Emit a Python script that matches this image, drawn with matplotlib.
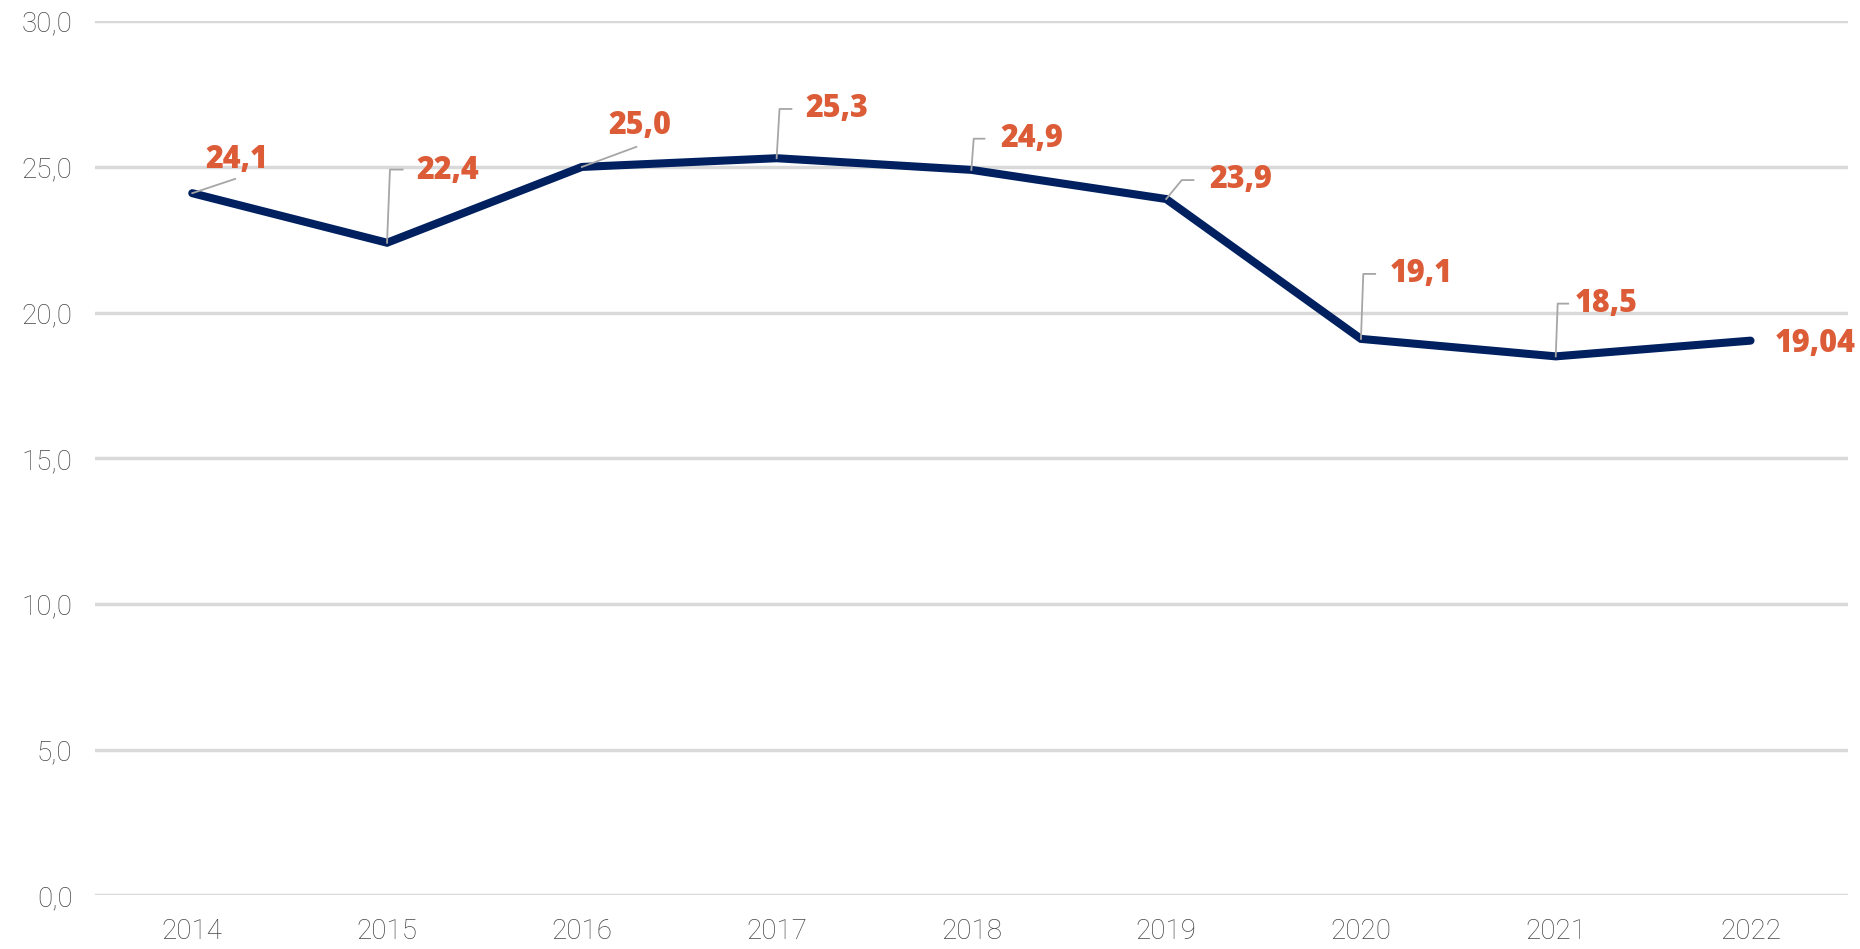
import matplotlib
matplotlib.use('Agg')
import matplotlib.pyplot as plt
from matplotlib.ticker import FuncFormatter

# ========== 数据 ==========
years = ['2014', '2015', '2016', '2017', '2018', '2019', '2020', '2021', '2022']
values = [24.1, 22.4, 25.0, 25.3, 24.9, 23.9, 19.1, 18.5, 19.04]
value_labels = ['24,1', '22,4', '25,0', '25,3', '24,9', '23,9', '19,1', '18,5', '19,04']

# label placement (data coords) and leader-line shape, layout only
label_pos = [(0.23, 25.24), (1.31, 24.87), (2.30, 26.42), (3.31, 26.99), (4.31, 25.97),
             (5.385, 24.55), (6.31, 21.33), (7.26, 20.31), (8.33, 18.93)]
# leader: list of vertices after the data point (None = no leader)
leaders = [
    [(0.22, 24.59)],
    [(1.015, 24.91), (1.08, 24.91)],
    [(2.28, 25.69)],
    [(3.015, 26.99), (3.076, 26.99)],
    [(4.012, 25.97), (4.067, 25.97)],
    [(5.08, 24.55), (5.14, 24.55)],
    [(6.012, 21.33), (6.073, 21.33)],
    [(7.01, 20.31), (7.064, 20.31)],
    None,
]

LINE_COLOR = '#002060'
LABEL_COLOR = '#DC5C38'
GRID_COLOR = '#D9D9D9'
TICK_COLOR = '#454545'

fig = plt.figure(figsize=(18.6, 9.49), dpi=100)
ax = fig.add_axes([0.051, 0.0564, 0.9425, 0.9212])

x = list(range(len(years)))
ax.plot(x, values, color=LINE_COLOR, linewidth=5.8, solid_capstyle='round',
        solid_joinstyle='miter', zorder=3)

# leader lines
for i, pts in enumerate(leaders):
    if pts is None:
        continue
    xs = [x[i]] + [p[0] for p in pts]
    ys = [values[i]] + [p[1] for p in pts]
    ax.plot(xs, ys, color='#A6A6A6', linewidth=1.3, zorder=4)

# data labels
for i, (lx, ly) in enumerate(label_pos):
    ax.text(lx, ly, value_labels[i], color=LABEL_COLOR, fontsize=22, fontweight='heavy',
            family=['Open Sans', 'DejaVu Sans'], ha='center', va='center', zorder=5)

ax.set_xlim(-0.5, len(years) - 0.5)
ax.set_ylim(0, 30)
ax.set_yticks([0, 5, 10, 15, 20, 25, 30])
ax.yaxis.set_major_formatter(FuncFormatter(lambda v, p: f'{v:.1f}'.replace('.', ',')))
ax.set_xticks(x)
ax.set_xticklabels(years)

ax.grid(axis='y', color=GRID_COLOR, linewidth=2.5, zorder=0)
ax.set_axisbelow(True)
for s in ax.spines.values():
    s.set_visible(False)
ax.tick_params(axis='both', length=0, colors=TICK_COLOR, labelsize=20)
ax.tick_params(axis='x', pad=16)
ax.tick_params(axis='y', pad=16)
for lab in ax.get_xticklabels() + ax.get_yticklabels():
    lab.set_family(['Roboto', 'DejaVu Sans'])
    lab.set_fontweight('light')

fig.savefig('out.png', dpi=100)
